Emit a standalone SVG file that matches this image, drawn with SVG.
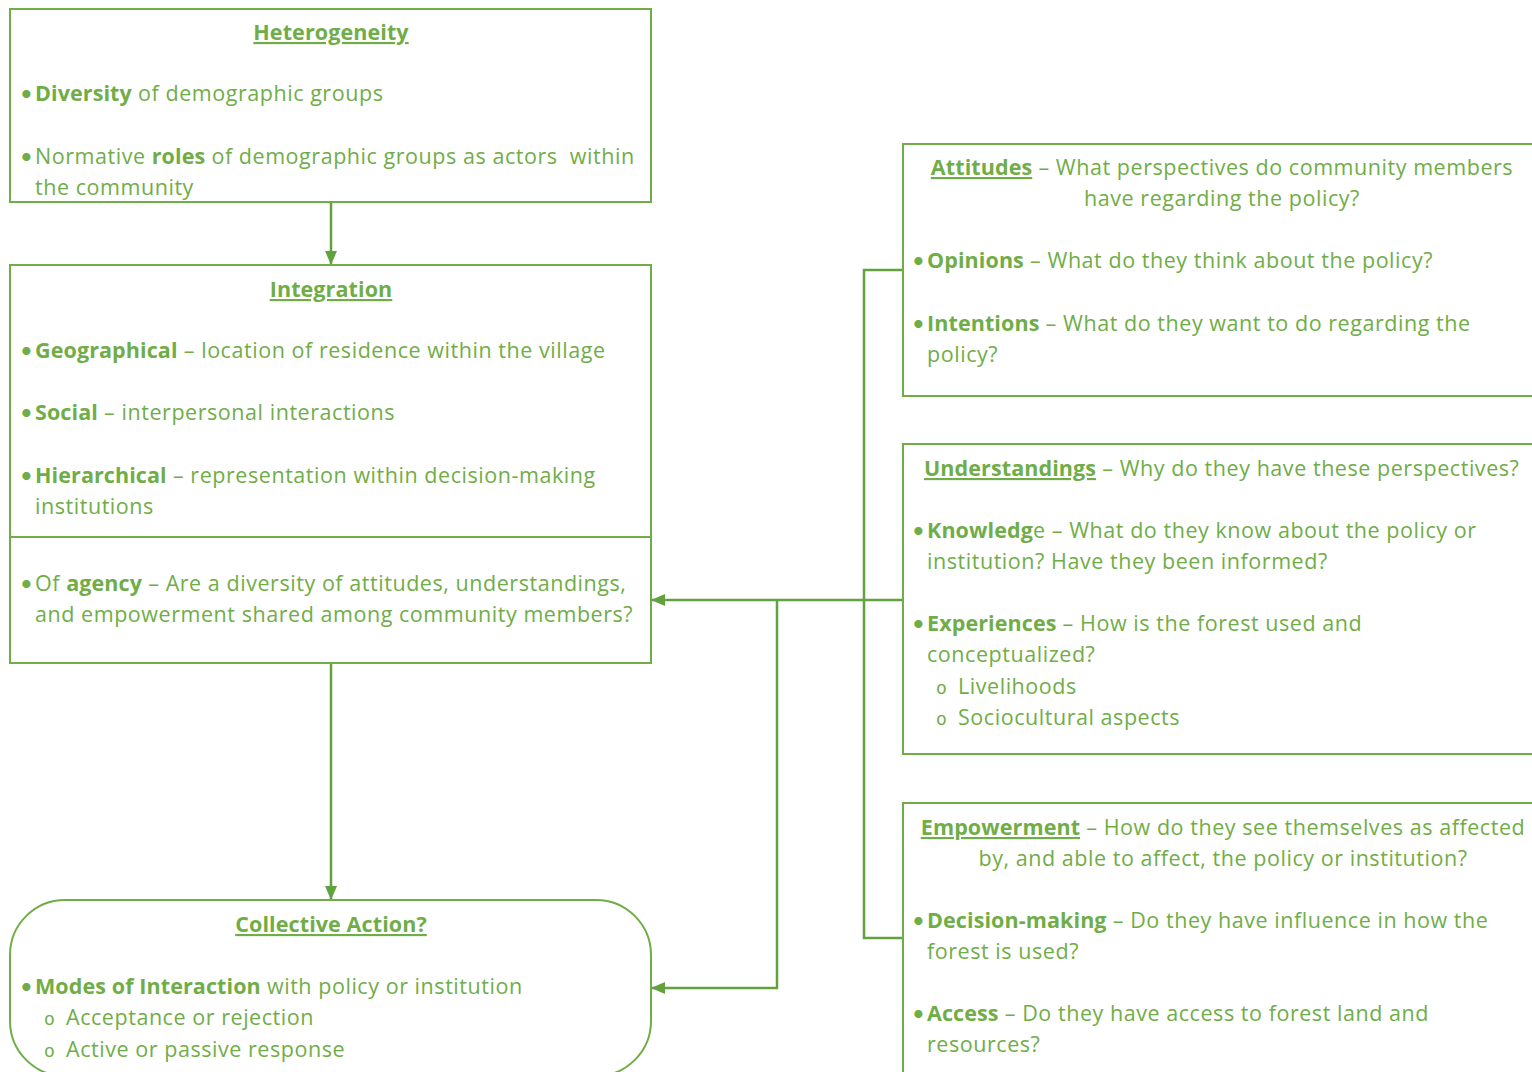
<svg xmlns="http://www.w3.org/2000/svg" width="1532" height="1072" viewBox="0 0 1532 1072">
  <defs>
    <style>
      .box { fill: #ffffff; stroke: #70AD47; stroke-width: 2; }
      .conn { fill: none; stroke: #62A23C; stroke-width: 2.5; }
      .t { font-family: "Open Sans", Lato, "Liberation Sans", sans-serif; font-size: 21.5px; letter-spacing: 0.55px; fill: #70AD47; }
      .dot { font-family: Lato, "Open Sans", sans-serif; font-size: 22px; fill: #70AD47; }
      .b { font-weight: bold; letter-spacing: 0.1px; }
      .u { text-decoration: underline; }
      .c { text-anchor: middle; }
      .o { font-family: "Liberation Mono", monospace; font-size: 18px; fill: #70AD47; }
    </style>
    <marker id="arrow" viewBox="0 0 14 12" refX="13" refY="6" markerWidth="14" markerHeight="12" markerUnits="userSpaceOnUse" orient="auto">
      <path d="M0,0 L14,6 L0,12 Z" fill="#62A23C"/>
    </marker>
  </defs>

  <rect width="1532" height="1072" fill="#ffffff"/>

  <!-- connectors -->
  <g id="connectors">
    <line class="conn" x1="331" y1="202" x2="331" y2="264" marker-end="url(#arrow)"/>
    <line class="conn" x1="331" y1="663" x2="331" y2="899" marker-end="url(#arrow)"/>
    <!-- bracket gathering the three right-hand boxes -->
    <polyline class="conn" points="903,270 864,270 864,938 903,938"/>
    <line class="conn" x1="903" y1="600" x2="652" y2="600" marker-end="url(#arrow)"/>
    <polyline class="conn" points="777,600 777,988 652,988" marker-end="url(#arrow)"/>
  </g>

  <!-- Heterogeneity -->
  <g id="heterogeneity">
    <rect class="box" x="10" y="9" width="641" height="193"/>
    <text class="t b u c" x="331" y="40">Heterogeneity</text>
    <text class="dot" x="20" y="101">•</text>
    <text class="t" x="35" y="101"><tspan class="b">Diversity</tspan> of demographic groups</text>
    <text class="dot" x="20" y="164">•</text>
    <text class="t" x="35" y="164">Normative <tspan class="b">roles</tspan> of demographic groups as actors&#160; within</text>
    <text class="t" x="35" y="195">the community</text>
  </g>

  <!-- Integration -->
  <g id="integration">
    <rect class="box" x="10" y="265" width="641" height="398"/>
    <line class="box" x1="10" y1="537" x2="651" y2="537"/>
    <text class="t b u c" x="331" y="297">Integration</text>
    <text class="dot" x="20" y="358">•</text>
    <text class="t" x="35" y="358"><tspan class="b">Geographical</tspan> – location of residence within the village</text>
    <text class="dot" x="20" y="420">•</text>
    <text class="t" x="35" y="420"><tspan class="b">Social</tspan> – interpersonal interactions</text>
    <text class="dot" x="20" y="483">•</text>
    <text class="t" x="35" y="483"><tspan class="b">Hierarchical</tspan> – representation within decision-making</text>
    <text class="t" x="35" y="514">institutions</text>
    <text class="dot" x="20" y="591">•</text>
    <text class="t" x="35" y="591">Of <tspan class="b">agency</tspan> – Are a diversity of attitudes, understandings,</text>
    <text class="t" x="35" y="622">and empowerment shared among community members?</text>
  </g>

  <!-- Collective Action -->
  <g id="collective-action">
    <rect class="box" x="10" y="900" width="641" height="176" rx="55" ry="55"/>
    <text class="t b u c" x="331" y="932">Collective Action?</text>
    <text class="dot" x="20" y="994">•</text>
    <text class="t" x="35" y="994"><tspan class="b">Modes of Interaction</tspan> with policy or institution</text>
    <text class="o" x="44" y="1025">o</text>
    <text class="t" x="66" y="1025">Acceptance or rejection</text>
    <text class="o" x="44" y="1057">o</text>
    <text class="t" x="66" y="1057">Active or passive response</text>
  </g>

  <!-- Attitudes -->
  <g id="attitudes">
    <rect class="box" x="903" y="144" width="640" height="252"/>
    <text class="t c" x="1222" y="175"><tspan class="b u">Attitudes</tspan> – What perspectives do community members</text>
    <text class="t c" x="1222" y="206">have regarding the policy?</text>
    <text class="dot" x="912" y="268">•</text>
    <text class="t" x="927" y="268"><tspan class="b">Opinions</tspan> – What do they think about the policy?</text>
    <text class="dot" x="912" y="331">•</text>
    <text class="t" x="927" y="331"><tspan class="b">Intentions</tspan> – What do they want to do regarding the</text>
    <text class="t" x="927" y="362">policy?</text>
  </g>

  <!-- Understandings -->
  <g id="understandings">
    <rect class="box" x="903" y="444" width="640" height="310"/>
    <text class="t" x="924" y="476"><tspan class="b u">Understandings</tspan> – Why do they have these perspectives?</text>
    <text class="dot" x="912" y="538">•</text>
    <text class="t" x="927" y="538"><tspan class="b">Knowledg</tspan>e – What do they know about the policy or</text>
    <text class="t" x="927" y="569">institution? Have they been informed?</text>
    <text class="dot" x="912" y="631">•</text>
    <text class="t" x="927" y="631"><tspan class="b">Experiences</tspan> – How is the forest used and</text>
    <text class="t" x="927" y="662">conceptualized?</text>
    <text class="o" x="936" y="694">o</text>
    <text class="t" x="958" y="694">Livelihoods</text>
    <text class="o" x="936" y="725">o</text>
    <text class="t" x="958" y="725">Sociocultural aspects</text>
  </g>

  <!-- Empowerment -->
  <g id="empowerment">
    <rect class="box" x="903" y="803" width="640" height="290"/>
    <text class="t c" x="1223" y="835"><tspan class="b u">Empowerment</tspan> – How do they see themselves as affected</text>
    <text class="t c" x="1223" y="866">by, and able to affect, the policy or institution?</text>
    <text class="dot" x="912" y="928">•</text>
    <text class="t" x="927" y="928"><tspan class="b">Decision-making</tspan> – Do they have influence in how the</text>
    <text class="t" x="927" y="959">forest is used?</text>
    <text class="dot" x="912" y="1021">•</text>
    <text class="t" x="927" y="1021"><tspan class="b">Access</tspan> – Do they have access to forest land and</text>
    <text class="t" x="927" y="1052">resources?</text>
  </g>
</svg>
